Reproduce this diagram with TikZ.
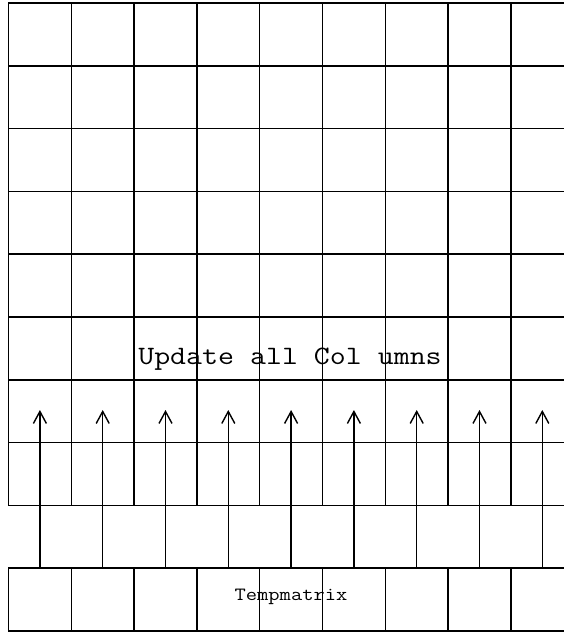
\documentclass[tikz,border=0pt]{standalone}
\usepackage{fontspec}
\newfontfamily\courlike[FakeStretch=1.17]{Latin Modern Mono}
\usetikzlibrary{arrows.meta}
\begin{document}
\begin{tikzpicture}[x=1pt,y=-1pt,
  cell/.style={draw,line width=1.5pt,minimum width=62.8pt,minimum height=62.8pt,inner sep=0pt,outer sep=0pt},
  upar/.style={line width=1.4pt,-{Straight Barb[length=12pt,width=13pt,line width=1.4pt]}},
  lbl/.style={inner sep=0pt,anchor=base}]
\useasboundingbox (0,0) rectangle (564,632);
\clip (0,0) rectangle (564,632);
\foreach \r in {1,...,8}{
  \foreach \c in {1,...,9}{
    \node[cell] (g-\r-\c) at ({39.9+62.8*(\c-1)},{34.4+62.8*(\r-1)}) {};
  }
}
\foreach \c in {1,...,9}{
  \node[cell] (t-\c) at ({39.9+62.8*(\c-1)},599.6) {};
  \coordinate (a-\c) at ({39.9+62.8*(\c-1)},410);
  \draw[upar] (t-\c.north) -- (a-\c);
}
\node[lbl,font=\courlike\fontsize{26.5}{30}\selectfont] (upd) at (290,364) {Update all Col umns};
\node[lbl,font=\courlike\fontsize{18.7}{22}\selectfont] (tmp) at (291,600) {Tempmatrix};
\end{tikzpicture}
\end{document}
